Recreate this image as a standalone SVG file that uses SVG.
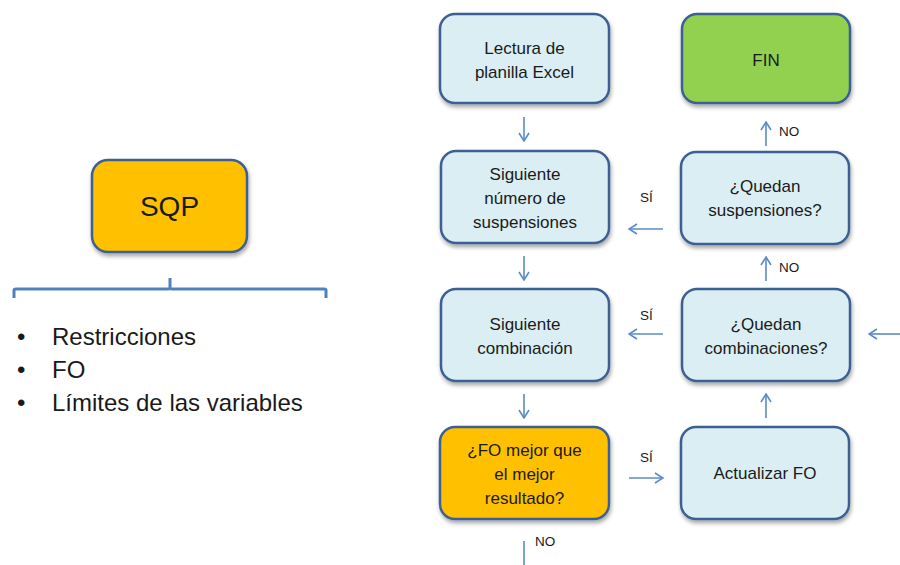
<svg xmlns="http://www.w3.org/2000/svg" width="900" height="565" viewBox="0 0 900 565">
<style>
.box{stroke:#3C6192;stroke-width:2.5;filter:url(#sh)}
.blue{fill:#DBEEF4}
.orange{fill:#FFC000}
.green{fill:#92D050}
.t{font-family:"Liberation Sans",Arial,sans-serif;font-size:17px;fill:#1a1a1a;text-anchor:middle}
.lbl{font-family:"Liberation Sans",Arial,sans-serif;font-size:13.5px;fill:#1a1a1a}
.big{font-family:"Liberation Sans",Arial,sans-serif;font-size:24px;fill:#1a1a1a}
.arr{stroke:#5B8BC6;stroke-width:1.6;fill:none;marker-end:url(#ah)}
.ln{stroke:#5B8BC6;stroke-width:1.6;fill:none}
</style>
<defs>
<filter id="sh" x="-10%" y="-10%" width="125%" height="130%">
<feGaussianBlur in="SourceAlpha" stdDeviation="2"/>
<feOffset dx="1" dy="3" result="b"/>
<feComponentTransfer><feFuncA type="linear" slope="0.35"/></feComponentTransfer>
<feMerge><feMergeNode/><feMergeNode in="SourceGraphic"/></feMerge>
</filter>
<marker id="ah" viewBox="0 0 12 12" refX="11" refY="6" markerWidth="12" markerHeight="12" markerUnits="userSpaceOnUse" orient="auto">
<polyline points="3,1 11,6 3,11" fill="none" stroke="#5B8BC6" stroke-width="1.6"/>
</marker>
</defs>

<g id="sqp">
<rect class="box orange" x="92" y="160" width="155" height="92" rx="16"/>
<text x="169.5" y="216" class="t" style="font-size:28px">SQP</text>
</g>

<g id="brace">
<path class="ln" d="M14,298 V290 Q14,289 16,289 H168 Q170,289 170,287 V278 M170,287 Q170,289 172,289 H324 Q326,289 326,290 V298" style="stroke:#4F81BD;stroke-width:3"/>
</g>

<g id="list">
<text x="17" y="345" class="big">•</text>
<text x="52" y="345" class="big">Restricciones</text>
<text x="17" y="378" class="big">•</text>
<text x="52" y="378" class="big">FO</text>
<text x="17" y="411" class="big">•</text>
<text x="52" y="411" class="big">Límites de las variables</text>
</g>

<g id="lectura">
<rect class="box blue" x="440" y="14" width="169" height="89" rx="15"/>
<text x="524.5" y="54" class="t">Lectura de</text>
<text x="524.5" y="78" class="t">planilla Excel</text>
</g>

<g id="fin">
<rect class="box green" x="682" y="14" width="168" height="89" rx="15"/>
<text x="766" y="66" class="t">FIN</text>
</g>

<g id="siguiente_numero">
<rect class="box blue" x="441" y="151" width="168" height="92" rx="15"/>
<text x="525" y="180" class="t">Siguiente</text>
<text x="525" y="204" class="t">número de</text>
<text x="525" y="228" class="t">suspensiones</text>
</g>

<g id="quedan_suspensiones">
<rect class="box blue" x="681" y="152" width="168" height="92" rx="15"/>
<text x="765" y="192" class="t">¿Quedan</text>
<text x="765" y="216" class="t">suspensiones?</text>
</g>

<g id="siguiente_combinacion">
<rect class="box blue" x="441" y="289" width="168" height="92" rx="15"/>
<text x="525" y="330" class="t">Siguiente</text>
<text x="525" y="354" class="t">combinación</text>
</g>

<g id="quedan_combinaciones">
<rect class="box blue" x="682" y="289" width="168" height="92" rx="15"/>
<text x="766" y="330" class="t">¿Quedan</text>
<text x="766" y="354" class="t">combinaciones?</text>
</g>

<g id="fo_mejor">
<rect class="box orange" x="440" y="427" width="169" height="92" rx="15"/>
<text x="524.5" y="456" class="t">¿FO mejor que</text>
<text x="524.5" y="480" class="t">el mejor</text>
<text x="524.5" y="504" class="t">resultado?</text>
</g>

<g id="actualizar_fo">
<rect class="box blue" x="681" y="427" width="168" height="92" rx="15"/>
<text x="765" y="479" class="t">Actualizar FO</text>
</g>

<g id="connectors">
<line class="arr" x1="524" y1="117" x2="524" y2="141"/>
<line class="arr" x1="524" y1="256" x2="524" y2="280"/>
<line class="arr" x1="524" y1="394" x2="524" y2="418"/>
<line class="arr" x1="766" y1="146" x2="766" y2="122"/>
<line class="arr" x1="766" y1="281" x2="766" y2="257"/>
<line class="arr" x1="766" y1="418" x2="766" y2="394"/>
<line class="arr" x1="663" y1="229" x2="629" y2="229"/>
<line class="arr" x1="663" y1="334" x2="629" y2="334"/>
<line class="arr" x1="629" y1="478" x2="663" y2="478"/>
<line class="arr" x1="900" y1="334" x2="869" y2="334"/>
<line class="ln" x1="524" y1="541" x2="524" y2="565"/>
<text x="779" y="136" class="lbl">NO</text>
<text x="779" y="272" class="lbl">NO</text>
<text x="640" y="202" class="lbl">SÍ</text>
<text x="640" y="320" class="lbl">SÍ</text>
<text x="640" y="462" class="lbl">SÍ</text>
<text x="535" y="546" class="lbl">NO</text>
</g>
</svg>
